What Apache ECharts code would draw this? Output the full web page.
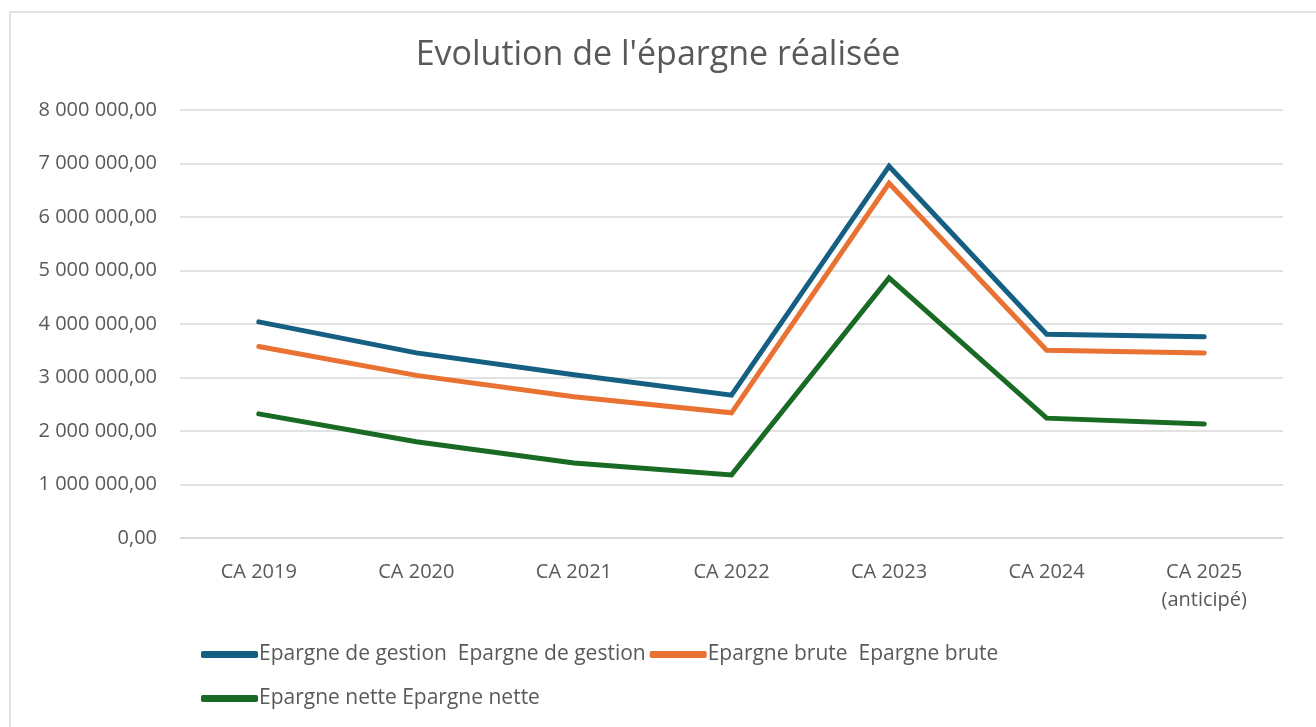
<!DOCTYPE html>
<html>
<head>
<meta charset="utf-8">
<script src="https://cdn.jsdelivr.net/npm/echarts@6/dist/echarts.min.js"></script>
<style>
  html, body { margin: 0; padding: 0; background: #fff; }
  #main { width: 1316px; height: 727px; }
</style>
</head>
<body>
<div id="main"></div>
<script>
// données
const categories = ['CA 2019', 'CA 2020', 'CA 2021', 'CA 2022', 'CA 2023', 'CA 2024', 'CA 2025\n(anticipé)'];
const epargneGestion = [4040000, 3460000, 3050000, 2670000, 6950000, 3810000, 3760000];
const epargneBrute = [3580000, 3040000, 2640000, 2340000, 6630000, 3510000, 3460000];
const epargneNette = [2320000, 1800000, 1400000, 1180000, 4860000, 2240000, 2130000];

const font = '"Open Sans", Roboto, sans-serif';

function fmt(v) {
  const s = Math.round(v).toString().replace(/\B(?=(\d{3})+(?!\d))/g, ' ');
  return s + ',00';
}

const legendText = { fontFamily: font, fontSize: 21, color: '#595959', padding: [0, 0, 0, -4] };

const chart = echarts.init(document.getElementById('main'));
const option = {
  backgroundColor: '#fff',
  textStyle: { fontFamily: font },
  graphic: [{
    type: 'rect',
    shape: { x: 10, y: 12, width: 1310, height: 730 },
    style: { fill: 'none', stroke: '#d9d9d9', lineWidth: 1.5 },
    silent: true
  }],
  title: {
    text: "Evolution de l'épargne réalisée",
    left: 'center',
    top: 33,
    textStyle: { fontFamily: font, fontSize: 34, fontWeight: 'normal', color: '#595959' }
  },
  legend: [
    {
      left: 196,
      top: 639,
      itemWidth: 57,
      itemHeight: 7,
      itemGap: 4,
      icon: 'roundRect',
      textStyle: legendText,
      data: ['Epargne de gestion  Epargne de gestion', 'Epargne brute  Epargne brute']
    },
    {
      left: 196,
      top: 683,
      itemWidth: 57,
      itemHeight: 7,
      icon: 'roundRect',
      textStyle: legendText,
      data: ['Epargne nette Epargne nette']
    }
  ],
  grid: { left: 180, right: 33, top: 110, bottom: 189 },
  xAxis: {
    type: 'category',
    data: categories,
    boundaryGap: true,
    axisLine: { lineStyle: { color: '#d9d9d9', width: 1.5 } },
    axisTick: { show: false },
    axisLabel: { color: '#595959', fontSize: 20, fontFamily: font, margin: 20, lineHeight: 28 }
  },
  yAxis: {
    type: 'value',
    min: 0,
    max: 8000000,
    interval: 1000000,
    axisLine: { show: false },
    axisTick: { show: false },
    splitLine: { lineStyle: { color: '#d9d9d9', width: 1.5 } },
    axisLabel: { color: '#595959', fontSize: 20, fontFamily: font, margin: 23, formatter: fmt }
  },
  series: [
    {
      name: 'Epargne de gestion  Epargne de gestion',
      type: 'line',
      data: epargneGestion,
      symbol: 'none',
      color: '#156082',
      lineStyle: { width: 5, cap: 'round', join: 'miter' }
    },
    {
      name: 'Epargne brute  Epargne brute',
      type: 'line',
      data: epargneBrute,
      symbol: 'none',
      color: '#E97132',
      lineStyle: { width: 5, cap: 'round', join: 'miter' }
    },
    {
      name: 'Epargne nette Epargne nette',
      type: 'line',
      data: epargneNette,
      symbol: 'none',
      color: '#196B24',
      lineStyle: { width: 5, cap: 'round', join: 'miter' }
    }
  ]
};
chart.setOption(option);
</script>
</body>
</html>
